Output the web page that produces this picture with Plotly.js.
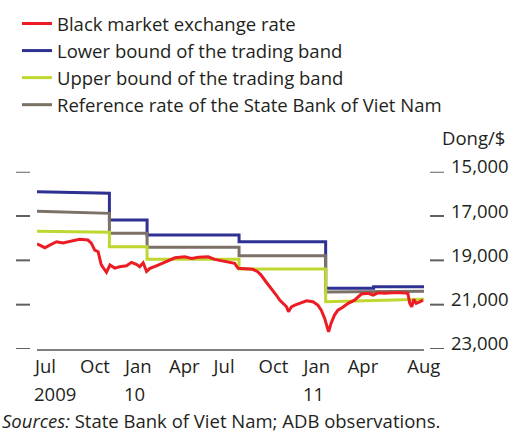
<!DOCTYPE html>
<html>
<head>
<meta charset="utf-8">
<script src="https://cdn.plot.ly/plotly-3.0.1.min.js"></script>
<style>html,body{margin:0;padding:0;background:#fff;}#chart{width:516px;height:432px;}</style>
</head>
<body>
<div id="chart"></div>
<script>
// ---- data ----
var redDates = ['2009-07-01','2009-07-17','2009-07-27','2009-08-10','2009-08-23','2009-09-12','2009-09-26','2009-10-13','2009-10-20','2009-10-27','2009-11-03','2009-11-06','2009-11-09','2009-11-12','2009-11-20','2009-11-27','2009-12-07','2009-12-17','2009-12-31','2010-01-10','2010-01-20','2010-01-27','2010-02-03','2010-02-10','2010-02-17','2010-03-02','2010-03-19','2010-04-09','2010-04-29','2010-05-13','2010-05-27','2010-06-16','2010-06-29','2010-07-20','2010-07-30','2010-08-09','2010-08-16','2010-09-02','2010-09-15','2010-09-25','2010-10-02','2010-10-12','2010-10-23','2010-11-02','2010-11-09','2010-11-16','2010-11-23','2010-11-27','2010-12-03','2010-12-10','2010-12-23','2011-01-03','2011-01-16','2011-01-26','2011-02-02','2011-02-09','2011-02-14','2011-02-17','2011-02-22','2011-03-01','2011-03-08','2011-03-18','2011-03-29','2011-04-11','2011-04-25','2011-05-09','2011-05-19','2011-05-29','2011-06-12','2011-06-26','2011-07-16','2011-07-29','2011-08-02','2011-08-06','2011-08-10','2011-08-15','2011-08-22','2011-08-29'];
var redValues = [18260,18430,18310,18160,18220,18115,18050,18085,18220,18535,18610,18900,19170,19290,19540,19210,19350,19290,19245,19090,19180,19290,19110,19500,19360,19245,19090,18885,18840,18910,18865,18840,18955,19030,19065,19135,19360,19395,19405,19515,19665,19965,20265,20565,20795,20940,21095,21320,21095,21020,20895,20825,20870,21020,21245,21620,22000,22225,21845,21470,21245,21120,20940,20795,20520,20490,20565,20465,20490,20465,20465,20490,20940,21095,20760,20940,20870,20795];

var blueDates = ['2009-07-01','2009-11-26','2009-11-26','2010-02-11','2010-02-11','2010-08-18','2010-08-18','2011-02-11','2011-02-11','2011-05-20','2011-05-20','2011-08-31'];
var blueValues = [15900,15970,17180,17180,17860,17860,18160,18160,20260,20260,20190,20190];

var greenDates = ['2009-07-01','2009-11-26','2009-11-26','2010-02-11','2010-02-11','2010-08-18','2010-08-18','2011-02-11','2011-02-11','2011-08-31'];
var greenValues = [17690,17730,18385,18385,18955,18955,19390,19390,20870,20750];

var brownDates = ['2009-07-01','2009-11-26','2009-11-26','2010-02-11','2010-02-11','2010-08-18','2010-08-18','2011-02-11','2011-02-11','2011-08-31'];
var brownValues = [16780,16880,17780,17780,18410,18410,18790,18790,20430,20390];

var seriesNames = ['Black market exchange rate','Lower bound of the trading band','Upper bound of the trading band','Reference rate of the State Bank of Viet Nam'];

var monthTickVals = ['2009-07-01','2009-10-01','2010-01-01','2010-04-01','2010-07-01','2010-10-01','2011-01-01','2011-04-01','2011-08-01'];
var monthTickText = ['Jul','Oct','Jan','Apr','Jul','Oct','Jan','Apr','Aug'];
var yearTickVals = ['2009-07-01','2010-01-01','2011-01-01'];
var yearTickText = ['2009','10','11'];

var yTickVals = [15000,17000,19000,21000,23000];
var yTickText = ['15,000','17,000','19,000','21,000','23,000'];

// ---- chart ----
var W = 516, H = 432;
var FONT = 'Open Sans, sans-serif';
var TXT = '#231f20';
var FS = 18.5;
var LW = 3;

var traces = [
  {x: blueDates, y: blueValues, name: seriesNames[1], mode: 'lines', line: {color: '#2e3192', width: LW}, legendrank: 2, legendgroup: 'b'},
  {x: brownDates, y: brownValues, name: seriesNames[3], mode: 'lines', line: {color: '#7b7167', width: LW}, legendrank: 4, legendgroup: 'r'},
  {x: greenDates, y: greenValues, name: seriesNames[2], mode: 'lines', line: {color: '#bfd730', width: LW}, legendrank: 3, legendgroup: 'g'},
  {x: redDates, y: redValues, name: seriesNames[0], mode: 'lines', line: {color: '#ed1c24', width: LW}, legendrank: 1, legendgroup: 'k'}
];

var shapes = [];
yTickVals.forEach(function (v) {
  shapes.push({type: 'line', xref: 'paper', yref: 'y', x0: 16 / W, x1: 30 / W, y0: v, y1: v, line: {color: '#606060', width: 2}});
  shapes.push({type: 'line', xref: 'paper', yref: 'y', x0: 430 / W, x1: 444 / W, y0: v, y1: v, line: {color: '#606060', width: 2}});
});

var annotations = [];
yearTickVals.forEach(function (d, i) {
  annotations.push({x: d, xref: 'x', y: 1 - 393 / H, yref: 'paper', text: yearTickText[i], showarrow: false, xanchor: 'left', yanchor: 'middle', xshift: -5, font: {family: FONT, size: FS, color: TXT}});
});
annotations.push({x: 507 / W, xref: 'paper', y: 1 - 137 / H, yref: 'paper', text: 'Dong/$', showarrow: false, xanchor: 'right', yanchor: 'middle', font: {family: FONT, size: FS, color: TXT}});
annotations.push({x: 0, xref: 'paper', y: 1 - 420 / H, yref: 'paper', text: '<i>Sources:</i> State Bank of Viet Nam; ADB observations.', showarrow: false, xanchor: 'left', yanchor: 'middle', font: {family: FONT, size: FS, color: TXT}});

var layout = {
  width: W, height: H,
  margin: {l: 0, r: 0, t: 0, b: 0},
  paper_bgcolor: '#fff', plot_bgcolor: '#fff',
  font: {family: FONT, size: FS, color: TXT},
  showlegend: true,
  legend: {x: 17 / W, xanchor: 'left', y: 1 - 5 / H, yanchor: 'top', bgcolor: 'rgba(0,0,0,0)', font: {family: FONT, size: FS, color: TXT}, tracegroupgap: 0, traceorder: 'normal'},
  xaxis: {
    type: 'date', domain: [37 / W, 424 / W], range: ['2009-07-01', '2011-08-31'],
    tickmode: 'array', tickvals: monthTickVals, ticktext: monthTickText,
    ticklabelposition: 'outside right', ticklabelshift: -3, ticks: '', showgrid: false, zeroline: false,
    showline: true, linecolor: '#808080', linewidth: 2,
    tickfont: {family: FONT, size: FS, color: TXT}, automargin: false
  },
  yaxis: {
    domain: [1 - 349 / H, 1 - 171.7 / H], range: [23000, 15000],
    tickmode: 'array', tickvals: yTickVals, ticktext: yTickText,
    side: 'right', ticks: '', showgrid: false, zeroline: false, showline: false,
    ticklabelstandoff: 26, ticklabelshift: 5,
    tickfont: {family: FONT, size: FS, color: TXT}, automargin: false
  },
  shapes: shapes,
  annotations: annotations
};

Plotly.newPlot('chart', traces, layout, {displayModeBar: false, staticPlot: true});
</script>
</body>
</html>
